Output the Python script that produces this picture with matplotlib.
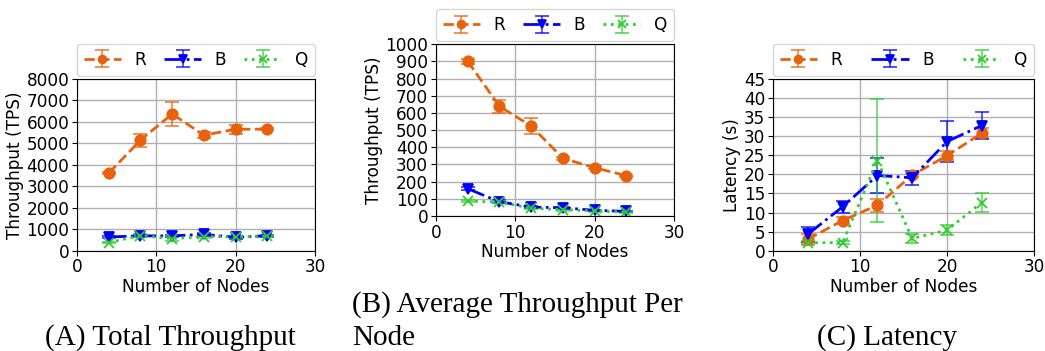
import numpy as np
import matplotlib
matplotlib.use("Agg")
import matplotlib.pyplot as plt

nodes = [4, 8, 12, 16, 20, 24]

# (A) total throughput
tot_r = [3610, 5150, 6370, 5380, 5660, 5660]
tot_r_err = [60, 300, 550, 150, 210, 60]
tot_b = [640, 690, 690, 760, 620, 700]
tot_b_err = [40, 60, 60, 60, 60, 50]
tot_q = [380, 700, 560, 660, 640, 690]
tot_q_err = [40, 60, 120, 50, 50, 40]

# (B) average throughput per node
avg_r = [901, 639, 524, 336, 281, 235]
avg_r_err = [15, 37, 46, 10, 8, 6]
avg_b = [159, 83, 52, 48, 33, 27]
avg_b_err = [10, 8, 6, 5, 4, 3]
avg_q = [87, 81, 45, 37, 29, 23]
avg_q_err = [5, 8, 6, 5, 4, 3]

# (C) latency
lat_r = [3.0, 7.9, 11.9, 19.8, 24.9, 30.8]
lat_r_err = [1.5, 0.8, 1.7, 0.5, 1.1, 1.3]
lat_b = [4.3, 11.5, 19.7, 19.1, 28.6, 32.8]
lat_b_err = [2.0, 1.6, 4.7, 1.8, 5.3, 3.5]
lat_q = [2.1, 2.1, 23.6, 3.2, 5.4, 12.6]
lat_q_err = [0.4, 0.4, 16.2, 1.2, 1.4, 2.5]

labels = ["R", "B", "Q"]
colors = ["#e8620e", "#0000ff", "#33cc33"]
styles = ["--", "-.", ":"]
markers = ["o", "v", "x"]

plt.rcParams["font.family"] = "DejaVu Sans"
plt.rcParams["font.size"] = 12.2

fig = plt.figure(figsize=(10.45, 3.51), dpi=100)

axA = fig.add_axes([0.0737, 0.2858, 0.2277, 0.4892])
axB = fig.add_axes([0.4172, 0.3846, 0.2278, 0.4892])
axC = fig.add_axes([0.7397, 0.2858, 0.2498, 0.4892])


def draw(ax, series, ylim, yticks, ylabel):
    for (vals, errs), lab, c, ls, m in zip(series, labels, colors, styles, markers):
        eb = ax.errorbar(nodes, vals, yerr=errs, label=lab, color=c, linestyle=ls,
                         marker=m, markersize=7.5, linewidth=2, capsize=5,
                         elinewidth=1.2, ecolor=c, mew=1.3)
        for art in eb[1] + eb[2]:
            art.set_alpha(0.75)
    ax.set_xlim(0, 30)
    ax.set_xticks([0, 10, 20, 30])
    ax.set_ylim(*ylim)
    ax.set_yticks(yticks)
    ax.grid(True, color="#b0b0b0", linewidth=1)
    ax.set_axisbelow(True)
    ax.set_xlabel("Number of Nodes", labelpad=1)
    ax.set_ylabel(ylabel, labelpad=2)
    ax.tick_params(axis="both", pad=2, length=3.5)
    ax.legend(ncol=3, loc="lower left", bbox_to_anchor=(0, 1.02, 1, 0.2),
              mode="expand", borderaxespad=0, handlelength=2.2,
              handletextpad=0.8, markerscale=0.75,
              fontsize=12.2, framealpha=0.8)


draw(axA, [(tot_r, tot_r_err), (tot_b, tot_b_err), (tot_q, tot_q_err)],
     (0, 8000), np.arange(0, 8001, 1000), "Throughput (TPS)")
draw(axB, [(avg_r, avg_r_err), (avg_b, avg_b_err), (avg_q, avg_q_err)],
     (0, 1000), np.arange(0, 1001, 100), "Throughput (TPS)")
draw(axC, [(lat_r, lat_r_err), (lat_b, lat_b_err), (lat_q, lat_q_err)],
     (0, 45), np.arange(0, 46, 5), "Latency (s)")

cap = dict(family="Liberation Serif", fontsize=21, va="baseline", ha="left")
fig.text(45 / 1045, 1 - 345 / 351, "(A) Total Throughput", **cap)
fig.text(352 / 1045, 1 - 312 / 351, "(B) Average Throughput Per", **cap)
fig.text(352 / 1045, 1 - 345 / 351, "Node", **cap)
fig.text(817 / 1045, 1 - 345 / 351, "(C) Latency", **cap)

fig.savefig("out.png", dpi=100)
